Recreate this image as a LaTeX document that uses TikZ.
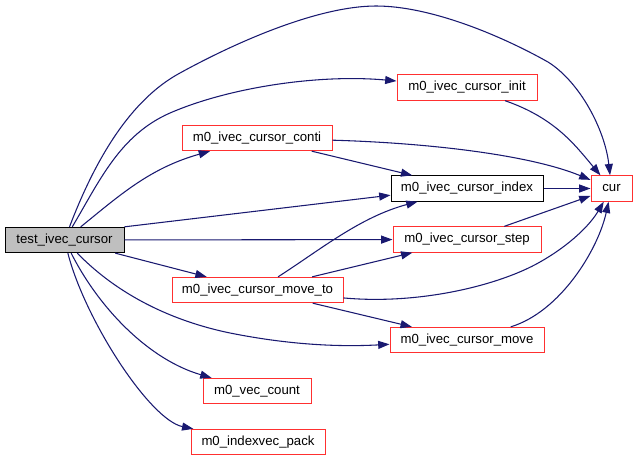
\documentclass[tikz,border=0pt]{standalone}
\usepackage{fontspec}
\setmainfont{Liberation Sans}
\usetikzlibrary{arrows.meta}
\definecolor{edgeblue}{HTML}{191970}
\definecolor{boxgray}{HTML}{BFBFBF}
\definecolor{boxred}{HTML}{FF3030}
\tikzset{
    fn/.style={draw, rectangle, inner sep=0pt, minimum height=19pt, line width=0.75pt, font=\fontsize{9.9}{12}\selectfont},
    fnred/.style={fn, draw=boxred},
    call/.style={draw=edgeblue, line width=0.8pt, -{Triangle[length=8.5pt, width=6pt]}, fill=none},
}
\begin{document}
\begin{tikzpicture}[x=0.75pt, y=-0.75pt]
        \useasboundingbox (0,0) rectangle (637,461);

        % Nodes
        \node[fn, fill=boxgray, minimum width=89.25pt] (test) at (64.5,240) {test\_ivec\_cursor};
        \node[fnred, minimum width=105pt] (init) at (467,87.5) {m0\_ivec\_cursor\_init};
        \node[fnred, minimum width=112.5pt] (conti) at (257,138) {m0\_ivec\_cursor\_conti};
        \node[fn, minimum width=114pt] (index) at (467,188.5) {m0\_ivec\_cursor\_index};
        \node[fnred, minimum width=30.75pt] (cur) at (611.5,188.5) {cur};
        \node[fnred, minimum width=111pt] (step) at (467,239.5) {m0\_ivec\_cursor\_step};
        \node[fnred, minimum width=128.25pt] (moveto) at (257.5,290) {m0\_ivec\_cursor\_move\_to};
        \node[fnred, minimum width=115.5pt] (move) at (467,340) {m0\_ivec\_cursor\_move};
        \node[fnred, minimum width=81pt] (vcount) at (257,391) {m0\_vec\_count};
        \node[fnred, minimum width=100.5pt] (ipack) at (258,442) {m0\_indexvec\_pack};

        % Calls from test_ivec_cursor
        \draw[call] (test) .. controls (95,160) and (130,100) .. (180,73)
            .. controls (240,40) and (320,6) .. (376,6)
            .. controls (430,6) and (500,35) .. (548,62)
            .. controls (580,82) and (605,130) .. (cur);
        \draw[call] (test) .. controls (100,180) and (120,135) .. (170,113)
            .. controls (230,87) and (320,74) .. (init);
        \draw[call] (test) .. controls (120,195) and (150,168) .. (conti);
        \draw[call] (test.north east) -- (index.185);
        \draw[call] (test) -- (step);
        \draw[call] (test) -- (moveto);
        \draw[call] (test) .. controls (118,295) and (172,321) .. (230,333)
            .. controls (290,345) and (340,347) .. (move);
        \draw[call] (test) .. controls (100,310) and (150,360) .. (vcount);
        \draw[call] (test) .. controls (85,320) and (150,420) .. (ipack);

        % Calls between the others
        \draw[call] (init) .. controls (555,118) and (575,145) .. (cur);
        \draw[call] (conti) .. controls (430,143) and (530,155) .. (cur);
        \draw[call] (conti) -- (index);
        \draw[call] (index) -- (cur);
        \draw[call] (step) -- (cur);
        \draw[call] (moveto) .. controls (320,250) and (360,217) .. (index);
        \draw[call] (moveto) -- (step);
        \draw[call] (moveto) .. controls (420,305) and (500,285) .. (540,262)
            .. controls (570,245) and (590,225) .. (cur);
        \draw[call] (moveto) -- (move);
        \draw[call] (move) .. controls (560,312) and (598,250) .. (cur);
\end{tikzpicture}
\end{document}
